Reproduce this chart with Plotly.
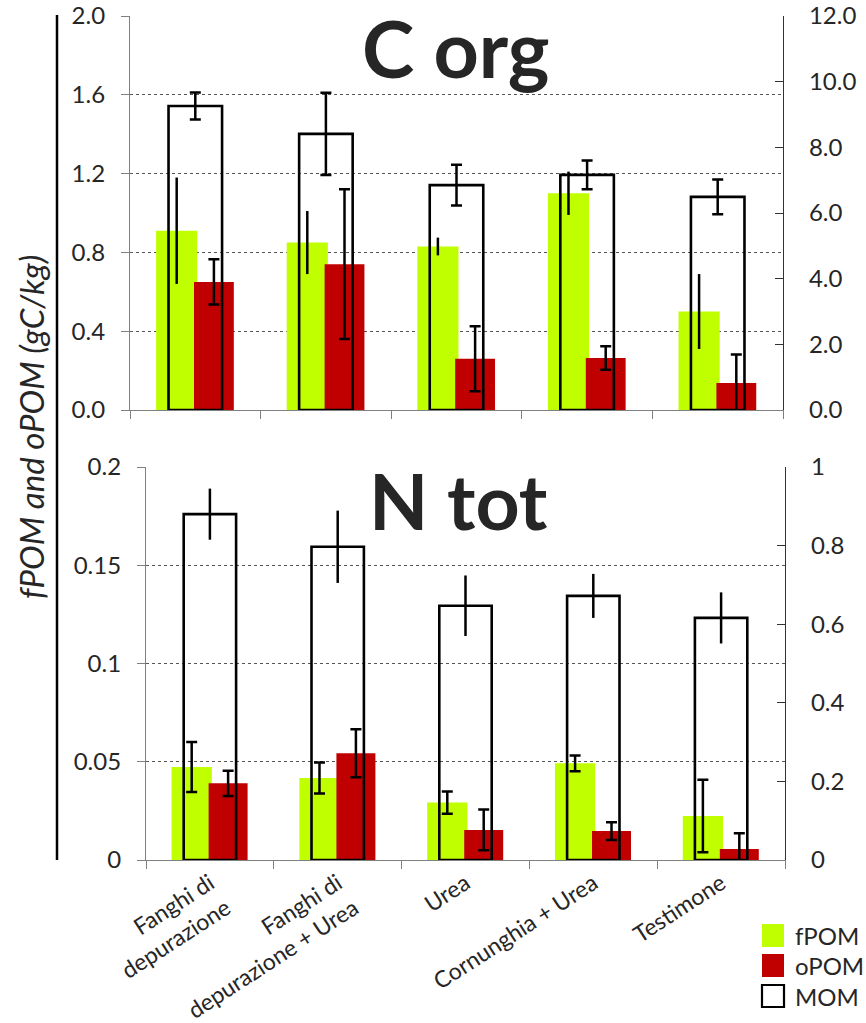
import plotly.graph_objects as go

W, H = 866, 1023

NB = "\u00a0"
categories = [NB * 7 + "Fanghi di<br>depurazione",
              NB * 21 + "Fanghi di<br>depurazione + Urea",
              "Urea", "Cornunghia + Urea", "Testimone"]

# C org (gC/kg)
c_fpom = [0.91, 0.85, 0.83, 1.10, 0.50]
c_fpom_err = [0.27, 0.16, 0.045, 0.11, 0.19]
c_opom = [0.65, 0.74, 0.26, 0.264, 0.137]
c_opom_err = [0.115, 0.38, 0.165, 0.06, 0.145]
c_mom = [9.26, 8.41, 6.85, 7.16, 6.49]
c_mom_err = [0.41, 1.25, 0.62, 0.44, 0.53]

# N tot
n_fpom = [0.0473, 0.0417, 0.0292, 0.0492, 0.0224]
n_fpom_err = [0.0127, 0.0079, 0.0056, 0.0040, 0.0185]
n_opom = [0.0390, 0.0543, 0.0153, 0.0147, 0.0056]
n_opom_err = [0.0064, 0.0122, 0.0104, 0.0045, 0.0080]
n_mom = [0.880, 0.797, 0.647, 0.672, 0.616]
n_mom_err = [0.065, 0.092, 0.077, 0.056, 0.065]

series_names = ["fPOM", "oPOM", "MOM"]
GREEN = "#BFFF00"
RED = "#C00000"
TXT = "#262626"
FONT = "Lato"

fig = go.Figure()


def add_panel(xa, ya, ya2, fpom, fpom_err, opom, opom_err, mom, mom_err, caps):
    fig.add_trace(go.Bar(x=categories, y=fpom, name=series_names[0], xaxis=xa, yaxis=ya,
                         offset=-0.30, width=0.315, marker=dict(color=GREEN, line=dict(width=0)),
                         error_y=dict(type="data", array=fpom_err, color="black",
                                      thickness=2.5, width=caps[0]),
                         showlegend=False))
    fig.add_trace(go.Bar(x=categories, y=opom, name=series_names[1], xaxis=xa, yaxis=ya,
                         offset=-0.01, width=0.305, marker=dict(color=RED, line=dict(width=0)),
                         error_y=dict(type="data", array=opom_err, color="black",
                                      thickness=2.5, width=caps[1]),
                         showlegend=False))
    fig.add_trace(go.Bar(x=categories, y=mom, name=series_names[2], xaxis=xa, yaxis=ya2,
                         offset=-0.205, width=0.41,
                         marker=dict(color="rgba(0,0,0,0)", line=dict(color="black", width=2.6)),
                         error_y=dict(type="data", array=mom_err, color="black",
                                      thickness=2.5, width=caps[2]),
                         showlegend=False))


add_panel("x", "y", "y2", c_fpom, c_fpom_err, c_opom, c_opom_err, c_mom, c_mom_err, [0, 5.5, 5.5])
add_panel("x2", "y3", "y4", n_fpom, n_fpom_err, n_opom, n_opom_err, n_mom, n_mom_err, [5.5, 5.5, 0])

tickfont = dict(family=FONT, size=24, color=TXT)

top_y = [1 - 410 / H, 1 - 16 / H]
bot_y = [1 - 860 / H, 1 - 467 / H]

common_x = dict(type="category", range=[-0.5, 4.5], showline=True, linecolor="#808080",
                linewidth=1.2, ticks="outside", tickson="boundaries", ticklen=8,
                tickcolor="#808080", showgrid=False, zeroline=False, automargin=False,
                tickfont=dict(family=FONT, size=23, color=TXT))
left_y = dict(showline=True, linecolor="#808080", linewidth=1.2, ticks="outside", ticklen=8,
              tickcolor="#808080", showgrid=True, gridcolor="#555555", griddash="dot",
              gridwidth=1, zeroline=False, tickfont=tickfont, ticklabelstandoff=11,
              automargin=False)
right_y = dict(side="right", showline=True, linecolor="#333333", linewidth=1.2, ticks="inside",
               ticklen=8, tickcolor="#333333", showgrid=False, zeroline=False,
               tickfont=tickfont, ticklabelstandoff=20, automargin=False)

fig.update_layout(
    width=W, height=H,
    margin=dict(l=0, r=0, t=0, b=0, pad=0, autoexpand=False),
    paper_bgcolor="white", plot_bgcolor="rgba(0,0,0,0)",
    barmode="overlay",
    showlegend=False,
    font=dict(family=FONT, color=TXT),
    xaxis=dict(common_x, domain=[130 / W, 783 / W], anchor="y", showticklabels=False),
    yaxis=dict(left_y, domain=top_y, anchor="x", range=[0, 2], tick0=0, dtick=0.4,
               tickformat=".1f"),
    yaxis2=dict(right_y, overlaying="y", anchor="x", range=[0, 12], tick0=0, dtick=2,
                tickformat=".1f"),
    xaxis2=dict(common_x, domain=[146 / W, 785 / W], anchor="y3", tickangle=-33,
                ticklabelstandoff=0),
    yaxis3=dict(left_y, domain=bot_y, anchor="x2", range=[0, 0.2], tick0=0, dtick=0.05),
    yaxis4=dict(right_y, overlaying="y3", anchor="x2", range=[0, 1], tick0=0, dtick=0.2),
)

# Panel titles
fig.add_annotation(text="<b>C org</b>", x=456 / W, y=1 - 48 / H, xref="paper", yref="paper",
                   showarrow=False, font=dict(family=FONT, size=79, color=TXT),
                   xanchor="center", yanchor="middle")
fig.add_annotation(text="<b>N tot</b>", x=458 / W, y=1 - 500 / H, xref="paper", yref="paper",
                   showarrow=False, font=dict(family=FONT, size=77, color=TXT),
                   xanchor="center", yanchor="middle")

# Shared y-axis title and vertical bar
fig.add_annotation(text="<i>fPOM and oPOM (gC/kg)</i>", x=31 / W, y=1 - 427 / H,
                   xref="paper", yref="paper", showarrow=False, textangle=-90,
                   font=dict(family=FONT, size=33, color=TXT),
                   xanchor="center", yanchor="middle")
fig.add_shape(type="line", xref="paper", yref="paper", x0=57 / W, x1=57 / W,
              y0=1 - 15 / H, y1=1 - 860 / H, line=dict(color="black", width=2.5))

# Legend (manual)
legend_items = [(series_names[0], GREEN, None, 924, 947),
                (series_names[1], RED, None, 954, 977),
                (series_names[2], "white", "black", 985, 1007)]
for name, fill, border, ya0, ya1 in legend_items:
    fig.add_shape(type="rect", xref="paper", yref="paper", x0=762 / W, x1=784 / W,
                  y0=1 - ya1 / H, y1=1 - ya0 / H, fillcolor=fill,
                  line=dict(color=border if border else fill, width=2.2 if border else 0))
    fig.add_annotation(text=name, x=793 / W, y=1 - ((ya0 + ya1) / 2) / H, xref="paper",
                       yref="paper", showarrow=False, xanchor="left", yanchor="middle",
                       font=dict(family=FONT, size=24, color=TXT))

fig.write_html("out.html")
